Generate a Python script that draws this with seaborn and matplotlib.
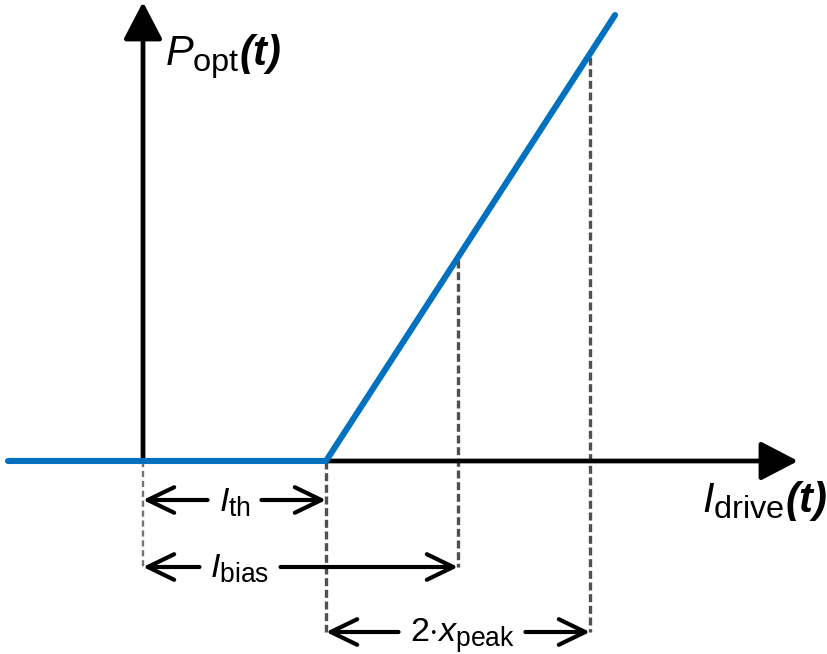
import matplotlib
matplotlib.use("Agg")
import matplotlib.pyplot as plt
import matplotlib._mathtext as _mt
from matplotlib.patches import FancyArrowPatch, ArrowStyle
import numpy as np
import pandas as pd
import seaborn as sns

# Laser diode transfer characteristic: optical power vs. drive current
I_th = 1.83          # threshold current
x_peak = 1.32        # modulation amplitude
I_bias = I_th + x_peak
slope = 1.543        # slope efficiency above threshold
I_start, I_end = -1.35, 4.72

drive = [I_start, I_th, I_end]
power = [0.0, 0.0, slope * (I_end - I_th)]

labels_axis = [r"$\mathit{P}_{\mathrm{opt}}\mathbfit{(t)}$",
               r"$\mathit{I}_{\mathrm{drive}}\mathbfit{(t)}$"]
labels_span = [r"$\mathit{I}_{\mathrm{th}}$",
               r"$\mathit{I}_{\mathrm{bias}}$",
               r"$2{\cdot}\mathit{x}_{\mathrm{peak}}$"]

sns.set_theme(style="white")
_mt.SHRINK_FACTOR = 0.78
plt.rcParams.update({
    "mathtext.fontset": "custom",
    "mathtext.rm": "Liberation Sans",
    "mathtext.it": "Liberation Sans:italic",
    "mathtext.bf": "Liberation Sans:bold",
    "mathtext.bfit": "Liberation Sans:bold:italic",
    "mathtext.sf": "Liberation Sans",
})
plt.rcParams["font.family"] = ["Liberation Sans", "DejaVu Sans"]

fig = plt.figure(figsize=(8.27, 6.54), dpi=100)
ax = fig.add_axes([0, 0, 1, 1])
ax.set_xlim(-1.43, 6.84)
ax.set_ylim(-1.93, 4.61)
ax.axis("off")

black = "black"
blue = "#0070C0"
grey = "#505050"

# coordinate axes with filled arrow heads
ax_style = ArrowStyle("-|>", head_length=1.15, head_width=0.6)
ax.add_patch(FancyArrowPatch((0, 0), (6.55, 0), arrowstyle=ax_style,
                             mutation_scale=20, lw=3.4, color=black,
                             shrinkA=0, shrinkB=0, zorder=2))
ax.add_patch(FancyArrowPatch((0, 0), (0, 4.59), arrowstyle=ax_style,
                             mutation_scale=20, lw=3.4, color=black,
                             shrinkA=0, shrinkB=0, zorder=2))

# P-I curve
df = pd.DataFrame({"drive": drive, "power": power})
sns.lineplot(data=df, x="drive", y="power", ax=ax, color=blue, lw=4.4,
             solid_capstyle="round", solid_joinstyle="round", zorder=3,
             legend=False)

# dashed guide lines
arrow_y = [-0.39, -1.06, -1.71]
dash = (0, (2.4, 1.1))
ax.plot([0, 0], [0, arrow_y[1]], color=grey, lw=1.7, ls=(0, (2.6, 1.6)),
        alpha=0.8, zorder=1)
ax.plot([I_th, I_th], [0, arrow_y[2]], color=grey, lw=2.4, ls=dash, zorder=1)
ax.plot([I_bias, I_bias], [slope * x_peak - 0.03, arrow_y[1]], color=grey,
        lw=2.4, ls=dash, zorder=1)
ax.plot([I_th + 2 * x_peak] * 2, [slope * 2 * x_peak - 0.03, arrow_y[2]],
        color=grey, lw=2.4, ls=dash, zorder=1)

# dimension arrows, split around their labels
spans = [(0, I_th), (0, I_bias), (I_th, I_th + 2 * x_peak)]
label_x = [I_th / 2, 0.97, I_th + x_peak + 0.04]
label_dy = [0.12, 0.11, 0.10]
gap_px = 11

fig.canvas.draw()
renderer = fig.canvas.get_renderer()
inv = ax.transData.inverted()
for (a, b), y, lab, lx, dy in zip(spans, arrow_y, labels_span, label_x,
                                  label_dy):
    t = ax.text(lx, y - dy, lab, fontsize=24.5, ha="center", va="baseline",
                color=black, zorder=5)
    bb = t.get_window_extent(renderer)
    g0 = inv.transform((bb.x0 - gap_px, 0))[0]
    g1 = inv.transform((bb.x1 + gap_px, 0))[0]
    for (p0, p1) in [((g0, y), (a, y)), ((g1, y), (b, y))]:
        ax.add_patch(FancyArrowPatch(
            p0, p1,
            arrowstyle=ArrowStyle("->", head_length=0.95, head_width=0.46),
            mutation_scale=20, lw=3.0, color=black, shrinkA=0, shrinkB=0,
            capstyle="round", joinstyle="round", zorder=4))

# axis titles
ax.text(0.22, 3.96, labels_axis[0], fontsize=30, ha="left", va="baseline",
        color=black)
ax.text(5.59, -0.51, labels_axis[1], fontsize=30, ha="left", va="baseline",
        color=black)

fig.savefig("out.png", dpi=100)
